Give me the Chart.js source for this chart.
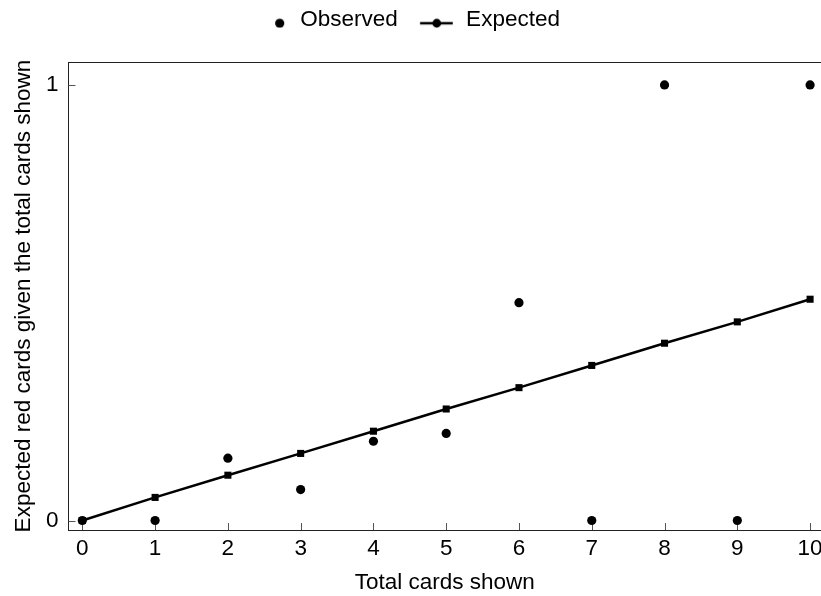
<!DOCTYPE html>
<html>
<head>
<meta charset="utf-8">
<script src="https://cdn.jsdelivr.net/npm/chart.js@4/dist/chart.umd.min.js"></script>
<style>
html,body{margin:0;padding:0;background:#fff;}
canvas{display:block;}
</style>
</head>
<body>
<canvas id="c" width="821" height="596"></canvas>
<script>
// ---- data ----
const totalCards = [0, 1, 2, 3, 4, 5, 6, 7, 8, 9, 10];
const observed   = [0, 0, 0.143, 0.071, 0.182, 0.2, 0.5, 0, 1, 0, 1];
const expected   = [0, 0.053, 0.104, 0.154, 0.205, 0.256, 0.305, 0.356, 0.407, 0.456, 0.508];
const xTickValues = [0, 1, 2, 3, 4, 5, 6, 7, 8, 9, 10];
const xTickLabels = ['0', '1', '2', '3', '4', '5', '6', '7', '8', '9', '10'];
const yTickValues = [0, 1];
const yTickLabels = ['0', '1'];
const seriesNames = ['Observed', 'Expected'];
const xTitle = 'Total cards shown';
const yTitle = 'Expected red cards given the total cards shown';

const FONT = '"Liberation Sans", Arial, Helvetica, sans-serif';
const FS = 22.5;
Chart.defaults.font.family = FONT;
Chart.defaults.color = '#000';

// legend marker images
function obsIcon() {
  const c = document.createElement('canvas');
  c.width = 40; c.height = 16;
  const g = c.getContext('2d');
  g.fillStyle = '#000';
  g.beginPath(); g.arc(33.6, 11.0, 4.6, 0, Math.PI * 2); g.fill();
  return c;
}
function expIcon() {
  const c = document.createElement('canvas');
  c.width = 60; c.height = 16;
  const g = c.getContext('2d');
  g.strokeStyle = '#000'; g.lineWidth = 2.5;
  g.beginPath(); g.moveTo(18.2, 11.0); g.lineTo(50.9, 11.0); g.stroke();
  g.fillStyle = '#000';
  g.beginPath(); g.arc(34.9, 11.0, 4.4, 0, Math.PI * 2); g.fill();
  return c;
}
const legendIcons = [obsIcon(), expIcon()];

// inward tick marks drawn via the chart's own scales
const insideTicks = {
  id: 'insideTicks',
  beforeDatasetsDraw(chart) {
    const {ctx, chartArea: a, scales: {x, y}} = chart;
    ctx.save();
    ctx.strokeStyle = '#555';
    ctx.lineWidth = 1;
    ctx.beginPath();
    xTickValues.forEach(v => {
      const px = Math.round(x.getPixelForValue(v)) + 0.5;
      ctx.moveTo(px, a.bottom);
      ctx.lineTo(px, a.bottom - 7);
    });
    yTickValues.forEach(v => {
      const py = Math.round(y.getPixelForValue(v)) + 0.5;
      ctx.moveTo(a.left, py);
      ctx.lineTo(a.left + 7, py);
    });
    ctx.stroke();
    ctx.restore();
  }
};

new Chart(document.getElementById('c'), {
  type: 'scatter',
  data: {
    datasets: [
      {
        label: seriesNames[0],
        data: totalCards.map((x, i) => ({x, y: observed[i]})),
        showLine: false,
        pointStyle: 'circle',
        pointRadius: 4.6,
        pointBackgroundColor: '#000',
        pointBorderWidth: 0,
        borderColor: '#000',
        backgroundColor: '#000',
        clip: false
      },
      {
        label: seriesNames[1],
        data: totalCards.map((x, i) => ({x, y: expected[i]})),
        showLine: true,
        borderColor: '#000',
        borderWidth: 2.5,
        pointStyle: 'rect',
        pointRadius: 5,
        pointBackgroundColor: '#000',
        pointBorderWidth: 0,
        backgroundColor: '#000',
        clip: false
      }
    ]
  },
  options: {
    responsive: false,
    animation: false,
    devicePixelRatio: 1,
    layout: {autoPadding: false, padding: {left: -18, right: 0, top: -2, bottom: 0}},
    plugins: {
      tooltip: {enabled: false},
      legend: {
        display: true,
        position: 'top',
        align: 'center',
        labels: {
          usePointStyle: true,
          pointStyleWidth: 46,
          padding: 11,
          color: '#000',
          font: {size: FS, family: FONT},
          generateLabels(chart) {
            return chart.data.datasets.map((ds, i) => ({
              text: ds.label,
              pointStyle: legendIcons[i],
              fillStyle: '#000',
              strokeStyle: '#000',
              lineWidth: 0,
              hidden: false,
              datasetIndex: i,
              fontColor: '#000'
            }));
          }
        }
      }
    },
    scales: {
      x: {
        type: 'linear',
        position: 'bottom',
        min: -0.19,
        max: 10.15,
        afterBuildTicks(scale) { scale.ticks = xTickValues.map(v => ({value: v})); },
        afterFit(scale) { scale.height = 66; scale.paddingLeft = 0; scale.paddingRight = 0; },
        grid: {display: true, drawOnChartArea: false, drawTicks: true, tickLength: 5, tickColor: 'rgba(0,0,0,0)'},
        border: {display: true, color: '#222', width: 1},
        ticks: {
          padding: 0,
          maxRotation: 0,
          autoSkip: false,
          color: '#000',
          font: {size: FS, family: FONT},
          callback(value) { const i = xTickValues.indexOf(value); return i >= 0 ? xTickLabels[i] : ''; }
        },
        title: {display: true, text: xTitle, color: '#000', font: {size: FS, family: FONT}, padding: {top: 0, bottom: 0}}
      },
      x2: {
        type: 'linear',
        position: 'top',
        min: -0.19,
        max: 10.15,
        afterFit(scale) { scale.height = 20.5; scale.paddingLeft = 0; scale.paddingRight = 0; },
        grid: {display: true, drawOnChartArea: false, drawTicks: false},
        border: {display: true, color: '#222', width: 1},
        ticks: {display: false}
      },
      y: {
        type: 'linear',
        position: 'left',
        min: -0.0218,
        max: 1.0526,
        afterBuildTicks(scale) { scale.ticks = yTickValues.map(v => ({value: v})); },
        afterFit(scale) { scale.width = 86.5; scale.paddingTop = 0; scale.paddingBottom = 0; },
        grid: {display: true, drawOnChartArea: false, drawTicks: false},
        border: {display: true, color: '#222', width: 1},
        ticks: {
          padding: 10,
          autoSkip: false,
          color: '#000',
          font: {size: FS, family: FONT},
          callback(value) { const i = yTickValues.indexOf(value); return i >= 0 ? yTickLabels[i] : ''; }
        },
        title: {display: true, text: yTitle, color: '#000', font: {size: FS, family: FONT}, padding: {top: 28, bottom: 0}}
      }
    }
  },
  plugins: [insideTicks]
});
</script>
</body>
</html>
